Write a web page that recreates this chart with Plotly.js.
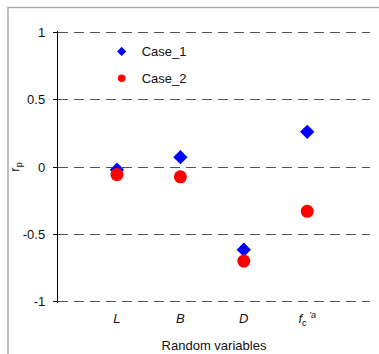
<!DOCTYPE html>
<html>
<head>
<meta charset="utf-8">
<script src="https://cdn.plot.ly/plotly-3.0.1.min.js"></script>
<style>html,body{margin:0;padding:0;background:#fff;}#chart{width:379px;height:354px;}</style>
</head>
<body>
<div id="chart"></div>
<script>
const categories = ["L", "B", "D", "fc'a"];
const tickLabels = ["<i>L</i>", "<i>B</i>", "<i>D</i>", "<i>f</i><sub><i>c</i></sub><sup> <i>'a</i></sup>"];
const case1 = [-0.02, 0.073, -0.615, 0.262];
const case2 = [-0.056, -0.073, -0.70, -0.33];
const yTicks = [-1, -0.5, 0, 0.5, 1];
const yTickLabels = ["-1", "-0.5", "0", "0.5", "1"];

const xIdx = categories.map((c, i) => i);
const font = {family: "Liberation Sans, Arial, sans-serif", size: 13, color: "#111"};

const pad = 0.012;
const unitPx = 268.5 / 2;
const padPx = pad * unitPx;

const data = [
  {x: xIdx, y: case1, mode: "markers", type: "scatter", showlegend: false,
   marker: {symbol: "diamond", size: 11, color: "#0000ff"}},
  {x: xIdx, y: case2, mode: "markers", type: "scatter", showlegend: false,
   marker: {symbol: "circle", size: 13, color: "#ff0000"}},
  {x: [null], y: [null], mode: "markers", type: "scatter", name: "Case_1", legendgroup: "a",
   marker: {symbol: "diamond", size: 7, color: "#0000ff"}},
  {x: [null], y: [null], mode: "markers", type: "scatter", name: "Case_2", legendgroup: "b",
   marker: {symbol: "circle", size: 7.5, color: "#ff0000"}}
];

const plotH = 268.5 + 2 * padPx;
const layout = {
  width: 379, height: 354,
  margin: {l: 58, r: 9, t: 33 - padPx, b: 52.5 - padPx, pad: 0},
  paper_bgcolor: "#fff", plot_bgcolor: "#fff",
  font: font,
  showlegend: true,
  legend: {x: 0.14, y: 0.98, xanchor: "left", yanchor: "top", bgcolor: "rgba(0,0,0,0)",
           borderwidth: 0, tracegroupgap: 7, traceorder: "grouped", font: font},
  xaxis: {range: [-0.93, 3.99], tickvals: xIdx, ticktext: tickLabels, showgrid: false,
          zeroline: false, showline: false, ticks: "", fixedrange: true,
          tickfont: font, ticklabelstandoff: 6,
          title: {text: "Random variables", font: font, standoff: 14}},
  yaxis: {range: [-1 - pad, 1 + pad], tickvals: yTicks, ticktext: yTickLabels, showgrid: true,
          gridcolor: "#555", gridwidth: 1, griddash: "10px,6px", zeroline: false,
          showline: true, linecolor: "#000", linewidth: 1.2, ticks: "outside", ticklen: 4,
          tickcolor: "#000", tickfont: font, ticklabelstandoff: 5,
          title: {text: "r<sub>p</sub>", font: font, standoff: 0}},
  shapes: [
    {type: "rect", xref: "paper", yref: "paper", layer: "below",
     x0: (8 - 58) / 312, x1: (400 - 58) / 312,
     y0: (354 - (52.5 - padPx) - 380) / plotH, y1: (354 - (52.5 - padPx) - 8) / plotH,
     line: {color: "#aaa", width: 1.5}, fillcolor: "rgba(0,0,0,0)"}
  ]
};

Plotly.newPlot("chart", data, layout, {staticPlot: true, displayModeBar: false});
</script>
</body>
</html>
